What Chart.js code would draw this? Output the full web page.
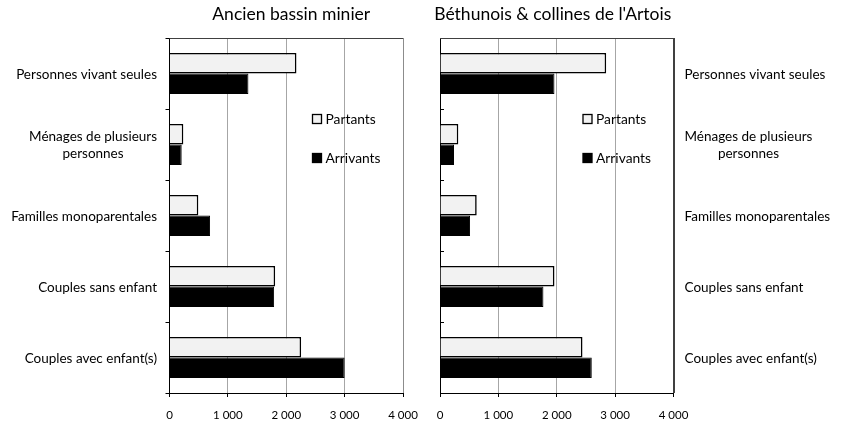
<!DOCTYPE html>
<html>
<head>
<meta charset="utf-8">
<script src="https://cdn.jsdelivr.net/npm/chart.js@4/dist/chart.umd.min.js"></script>
<style>
  html, body { margin: 0; padding: 0; background: #fff; }
  #wrap { position: relative; width: 845px; height: 427px; overflow: hidden; }
  #wrap canvas { position: absolute; top: 0; }
  #left { left: 0; }
  #right { left: 420px; }
</style>
</head>
<body>
<div id="wrap">
  <canvas id="left" width="430" height="427"></canvas>
  <canvas id="right" width="425" height="427"></canvas>
</div>
<script>
// Household types (multi-line labels as arrays of lines)
const categories = [
  ['Personnes vivant seules'],
  ['Ménages de plusieurs', 'personnes'],
  ['Familles monoparentales'],
  ['Couples sans enfant'],
  ['Couples avec enfant(s)']
];
const seriesNames = ['Partants', 'Arrivants'];

// Ancien bassin minier
const bassinPartants  = [2175, 237, 494, 1810, 2255];
const bassinArrivants = [1352, 209, 695, 1792, 3000];

// Béthunois & collines de l'Artois
const bethunoisPartants  = [2847, 314, 629, 1961, 2441];
const bethunoisArrivants = [1961, 240, 515, 1772, 2600];

const xTicks = [0, 1000, 2000, 3000, 4000];
const panelTitles = ['Ancien bassin minier', "Béthunois & collines de l'Artois"];

const FONT = 'Lato, "Open Sans", sans-serif';
const PARTANT_FILL = '#f2f2f2';
const ARRIVANT_FILL = '#000000';

function formatThousands(v) {
  return String(v).replace(/\B(?=(\d{3})+(?!\d))/g, ' ');
}

// Titles, frame, category labels and in-plot legend
const decorations = {
  id: 'decorations',
  afterDraw(chart, args, opts) {
    const ctx = chart.ctx;
    const area = chart.chartArea;
    const ys = chart.scales.y;
    ctx.save();

    // plot frame (top, and right edge when requested)
    ctx.strokeStyle = '#404040';
    ctx.lineWidth = 1;
    ctx.beginPath();
    ctx.moveTo(area.left, Math.round(area.top) + 0.5);
    ctx.lineTo(area.right, Math.round(area.top) + 0.5);
    if (opts.rightFrame) {
      ctx.moveTo(Math.round(area.right) + 0.5, area.top);
      ctx.lineTo(Math.round(area.right) + 0.5, area.bottom);
    }
    ctx.stroke();

    // title
    ctx.fillStyle = '#000';
    ctx.font = '17.5px ' + FONT;
    ctx.textAlign = 'center';
    ctx.textBaseline = 'alphabetic';
    ctx.fillText(opts.title, (area.left + area.right) / 2 + opts.titleShift, 20);

    // category labels, each block centred line by line
    ctx.font = '13.5px ' + FONT;
    ctx.textBaseline = 'middle';
    const lh = 17;
    categories.forEach((lines, i) => {
      const yc = ys.getPixelForValue(i) + 1;
      const block = Math.max(...lines.map(l => ctx.measureText(l).width));
      const xc = opts.labelSide === 'left'
        ? area.left - 12.5 - block / 2
        : area.right + 11 + block / 2;
      lines.forEach((l, k) => {
        ctx.fillText(l, xc, yc + (k - (lines.length - 1) / 2) * lh);
      });
    });

    // legend inside the plot
    ctx.font = '13.8px ' + FONT;
    ctx.textAlign = 'left';
    const lx = area.left + 143;
    const rows = [area.top + 81, area.top + 120];
    chart.data.datasets.forEach((ds, i) => {
      const y = rows[i];
      ctx.fillStyle = ds.backgroundColor;
      ctx.fillRect(lx, y - 4.5, 9, 9);
      ctx.strokeStyle = '#000';
      ctx.lineWidth = 1.3;
      ctx.strokeRect(lx, y - 4.5, 9, 9);
      ctx.fillStyle = '#000';
      ctx.fillText(ds.label, lx + 13, y + 0.5);
    });
    ctx.restore();
  }
};

function makePanel(canvasId, title, partants, arrivants, cfg) {
  return new Chart(document.getElementById(canvasId), {
    type: 'bar',
    data: {
      labels: categories.map(c => c.join(' ')),
      datasets: [
        {
          label: seriesNames[0], data: partants,
          backgroundColor: PARTANT_FILL, borderColor: '#000', borderWidth: 1.6,
          borderSkipped: 'start'
        },
        {
          label: seriesNames[1], data: arrivants,
          backgroundColor: ARRIVANT_FILL, borderColor: '#000', borderWidth: 1,
          borderSkipped: 'start'
        }
      ]
    },
    options: {
      indexAxis: 'y',
      responsive: false,
      animation: false,
      events: [],
      devicePixelRatio: 1,
      layout: { padding: { top: 38, right: cfg.padRight, left: 0, bottom: 0 } },
      datasets: { bar: { categoryPercentage: 0.58, barPercentage: 1.0 } },
      plugins: {
        legend: { display: false },
        title: { display: false },
        tooltip: { enabled: false },
        decorations: {
          title: title, titleShift: cfg.titleShift,
          labelSide: cfg.labelSide, rightFrame: cfg.rightFrame
        }
      },
      scales: {
        x: {
          type: 'linear', min: xTicks[0], max: xTicks[xTicks.length - 1],
          afterBuildTicks: s => { s.ticks = xTicks.map(v => ({ value: v })); },
          ticks: {
            padding: 11,
            color: '#000',
            font: { family: FONT, size: 11.5 },
            callback: v => formatThousands(v)
          },
          grid: { color: cfg.gridColors, tickColor: '#000', tickLength: 4, lineWidth: 1 },
          border: { color: '#000', width: 1 },
          afterFit: s => { s.height = 34; }
        },
        y: {
          position: 'left',
          offset: true,
          ticks: { display: false },
          grid: {
            offset: true, drawOnChartArea: false,
            tickLength: cfg.yTickLength, color: '#000', tickColor: '#000'
          },
          border: { color: '#000', width: 1 },
          afterFit: s => { s.width = cfg.yWidth; }
        }
      }
    },
    plugins: [decorations]
  });
}

makePanel('left', panelTitles[0], bassinPartants, bassinArrivants, {
  padRight: 27, yWidth: 169.5, yTickLength: 4, titleShift: 5,
  labelSide: 'left', rightFrame: false,
  gridColors: ['#a6a6a6', '#a6a6a6', '#a6a6a6', '#a6a6a6', '#8c8c8c']
});

makePanel('right', panelTitles[1], bethunoisPartants, bethunoisArrivants, {
  padRight: 171.5, yWidth: 20, yTickLength: -4, titleShift: -4,
  labelSide: 'right', rightFrame: true,
  gridColors: ['#a6a6a6', '#a6a6a6', '#a6a6a6', '#a6a6a6', '#404040']
});
</script>
</body>
</html>
